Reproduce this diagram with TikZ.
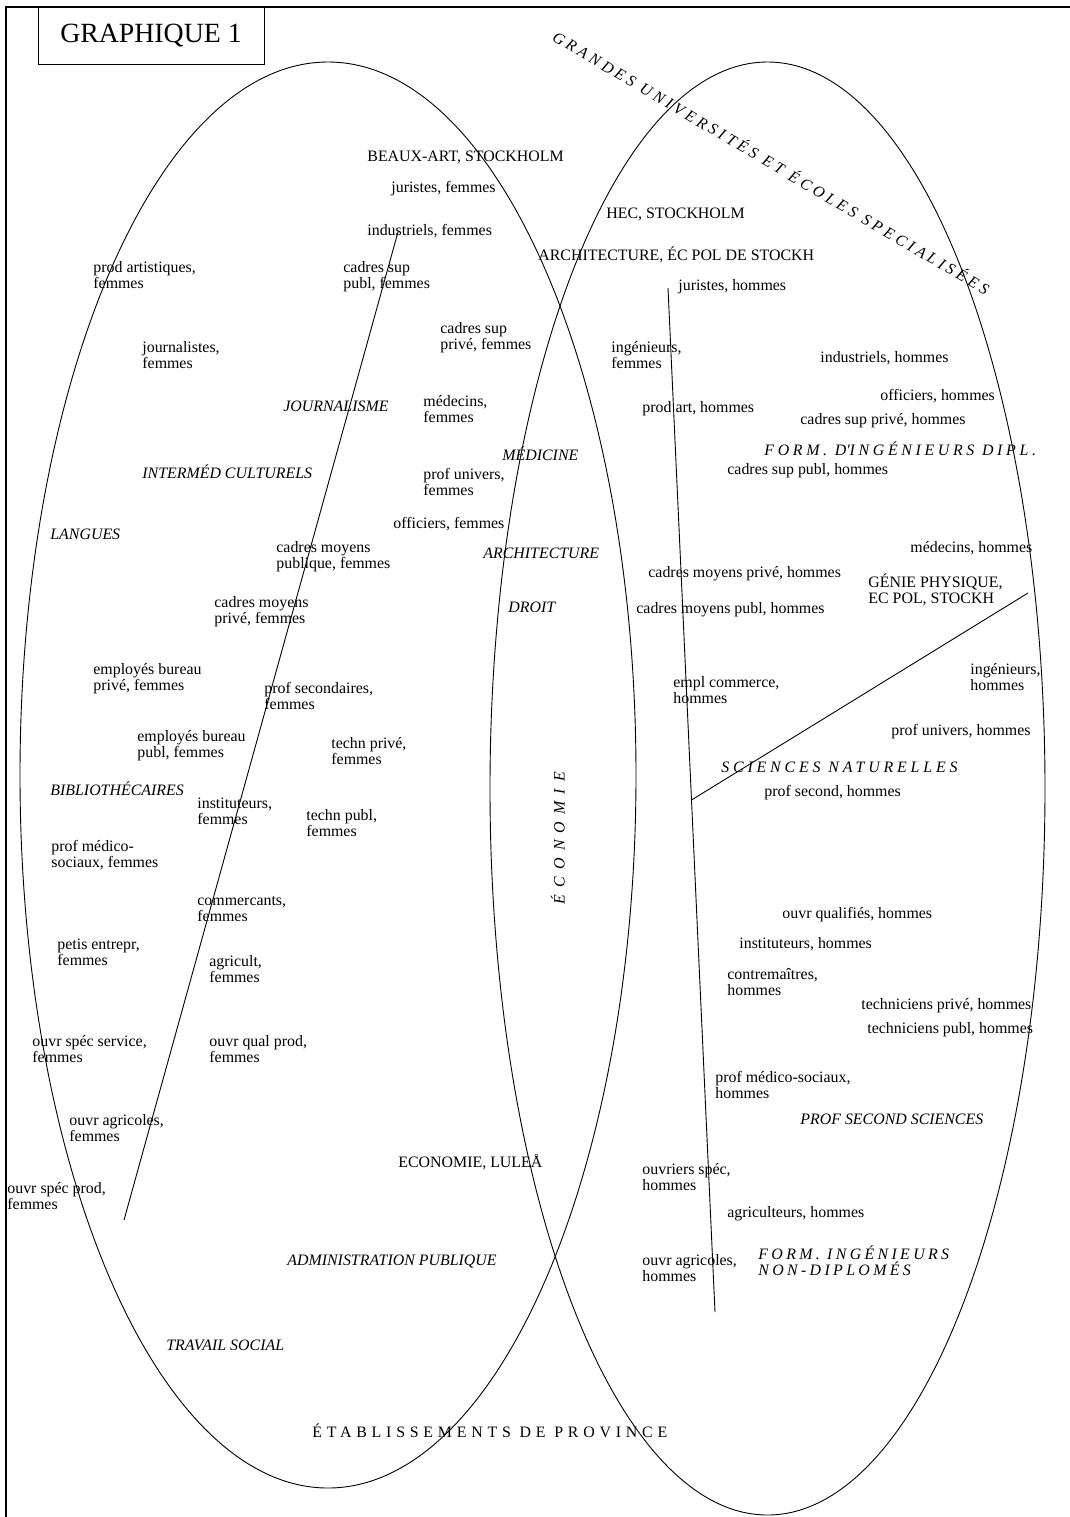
\documentclass[tikz,border=0pt]{standalone}
\usepackage{fontspec}
\setmainfont{Liberation Serif}
\usetikzlibrary{positioning}
\usetikzlibrary{calc}
\newcommand\lblfont{\fontsize{7.95}{8.3}\selectfont}
\newcommand\spc[1]{\addfontfeature{LetterSpace=#1}}
\begin{document}
\begin{tikzpicture}[x=0.5pt,y=-0.5pt,
  lbl/.style={anchor=base west,inner sep=0pt,align=left,font=\lblfont},
  lbltwo/.style={lbl,yshift=-8.3pt},
  cat/.style={lbl,font=\lblfont\itshape},
  curve/.style={line width=0.45pt}]
\useasboundingbox (0,0) rectangle (1070,1517);
\draw[line width=1.4pt] (6,1517) -- (6,7) -- (1070,7);
\node[draw,line width=0.5pt,minimum width=113pt,minimum height=28.5pt,inner sep=0pt,
  font=\fontsize{13.9}{15}\selectfont] (titre) at (151,35.5) {GRAPHIQUE 1};
\draw[curve] (328,775) ellipse [x radius=308, y radius=713];
\draw[curve] (767.5,788.5) ellipse [x radius=277.5, y radius=726.5];
\coordinate (fA) at (398,232);
\coordinate (fB) at (124,1220);
\coordinate (hA) at (668,288);
\coordinate (hB) at (715,1312);
\coordinate (sA) at (1028,593);
\coordinate (sB) at ($(hA)!0.5!(hB)$);
\draw[curve] (fA) -- (fB);
\draw[curve] (hA) -- (hB);
\draw[curve] (sA) -- (sB);
\node[lbl,rotate=-30.5,font=\lblfont\itshape\spc{24}] (grandes) at (551,40)
  {GRANDES UNIVERSITÉS ET ÉCOLES SPECIALISÉES};
\node[lbl] (bxart) at (367,161) {BEAUX-ART, STOCKHOLM};
\node[lbl] (jurf) at (391,192) {juristes, femmes};
\node[lbl] (indf) at (367,235) {industriels, femmes};
\node[lbltwo] (prodf) at (93,272) {prod artistiques,\\femmes};
\node[lbltwo] (csupubf) at (343,272) {cadres sup\\publ, femmes};
\node[lbl] (hec) at (606,218) {HEC, STOCKHOLM};
\node[lbl] (archst) at (538,260) {ARCHITECTURE, ÉC POL DE STOCKH};
\node[lbl] (jurh) at (678,290) {juristes, hommes};
\node[lbltwo] (journf) at (142,352) {journalistes,\\femmes};
\node[lbltwo] (csuprf) at (440,333) {cadres sup\\privé, femmes};
\node[lbltwo] (ingf) at (611,352) {ingénieurs,\\femmes};
\node[lbl] (indh) at (820,362) {industriels, hommes};
\node[cat] (journ) at (283,411) {JOURNALISME};
\node[lbltwo] (medf) at (423,406) {médecins,\\femmes};
\node[lbl] (prodh) at (642,412) {prod art, hommes};
\node[lbl] (offh) at (880,400) {officiers, hommes};
\node[lbl] (csuprh) at (800,424) {cadres sup privé, hommes};
\node[cat] (medic) at (502,460) {MÉDICINE};
\node[cat,font=\lblfont\itshape\spc{23}] (formdipl) at (764,455) {FORM. D\textquotesingle INGÉNIEURS DIPL.};
\node[lbl] (csupubh) at (727,474) {cadres sup publ, hommes};
\node[cat] (interm) at (142,478) {INTERMÉD CULTURELS};
\node[lbltwo] (profuf) at (423,479) {prof univers,\\femmes};
\node[cat] (langues) at (50,539) {LANGUES};
\node[lbl] (offf) at (393,528) {officiers, femmes};
\node[lbltwo] (cmpubf) at (276,552) {cadres moyens\\publique, femmes};
\node[cat] (archi) at (483,558) {ARCHITECTURE};
\node[lbl] (medh) at (910,552) {médecins, hommes};
\node[lbl] (cmprh) at (648,577) {cadres moyens privé, hommes};
\node[lbltwo] (genie) at (868,587) {GÉNIE PHYSIQUE,\\EC POL, STOCKH};
\node[lbltwo] (cmprf) at (214,607) {cadres moyens\\privé, femmes};
\node[cat] (droit) at (508,612) {DROIT};
\node[lbl] (cmpubh) at (636,613) {cadres moyens publ, hommes};
\node[lbltwo] (ebprf) at (93,674) {employés bureau\\privé, femmes};
\node[lbltwo] (profsecf) at (264,693) {prof secondaires,\\femmes};
\node[lbltwo] (emplcom) at (673,687) {empl commerce,\\hommes};
\node[lbltwo] (ingh) at (970,674) {ingénieurs,\\hommes};
\node[lbltwo] (ebpubf) at (137,741) {employés bureau\\publ, femmes};
\node[lbltwo] (techprf) at (331,748) {techn privé,\\femmes};
\node[lbl] (profuh) at (891,735) {prof univers, hommes};
\node[cat,font=\lblfont\itshape\spc{24}] (scinat) at (721,772) {SCIENCES NATURELLES};
\node[cat] (biblio) at (50,795) {BIBLIOTHÉCAIRES};
\node[lbl] (profsech) at (764,796) {prof second, hommes};
\node[lbltwo] (instf) at (197,808) {instituteurs,\\femmes};
\node[lbltwo] (techpubf) at (306,820) {techn publ,\\femmes};
\node[lbltwo] (pmsf) at (51,851) {prof médico-\\sociaux, femmes};
\node[inner sep=0pt,rotate=90,font=\lblfont\itshape\spc{45}] (econ) at (558,838) {ÉCONOMIE};
\node[lbltwo] (commf) at (197,905) {commercants,\\femmes};
\node[lbl] (oqualh) at (782,918) {ouvr qualifiés, hommes};
\node[lbltwo] (petisf) at (57,949) {petis entrepr,\\femmes};
\node[lbl] (insth) at (739,948) {instituteurs, hommes};
\node[lbltwo] (agrif) at (209,966) {agricult,\\femmes};
\node[lbltwo] (contreh) at (727,979) {contremaîtres,\\hommes};
\node[lbl] (techprh) at (861,1009) {techniciens privé, hommes};
\node[lbl] (techpubh) at (867,1033) {techniciens publ, hommes};
\node[lbltwo] (ossf) at (32,1046) {ouvr spéc service,\\femmes};
\node[lbltwo] (oqpf) at (209,1046) {ouvr qual prod,\\femmes};
\node[lbltwo] (pmsh) at (715,1082) {prof médico-sociaux,\\hommes};
\node[cat] (profsci) at (800,1124) {PROF SECOND SCIENCES};
\node[lbltwo] (oagrf) at (69,1125) {ouvr agricoles,\\femmes};
\node[lbl] (lulea) at (398,1167) {ECONOMIE, LULEÅ};
\node[lbltwo] (ouvspech) at (642,1174) {ouvriers spéc,\\hommes};
\node[lbltwo] (ospf) at (7,1193) {ouvr spéc prod,\\femmes};
\node[lbl] (agrih) at (727,1217) {agriculteurs, hommes};
\node[cat] (admin) at (287,1265) {ADMINISTRATION PUBLIQUE};
\node[lbltwo] (oagrh) at (642,1265) {ouvr agricoles,\\hommes};
\node[lbltwo,font=\lblfont\itshape\spc{21}] (formnd) at (758,1259) {FORM. INGÉNIEURS\\NON-DIPLOMÉS};
\node[cat] (travail) at (166,1350) {TRAVAIL SOCIAL};
\node[lbl,font=\lblfont\spc{30}] (etab) at (312,1437) {ÉTABLISSEMENTS DE PROVINCE};
\end{tikzpicture}
\end{document}
